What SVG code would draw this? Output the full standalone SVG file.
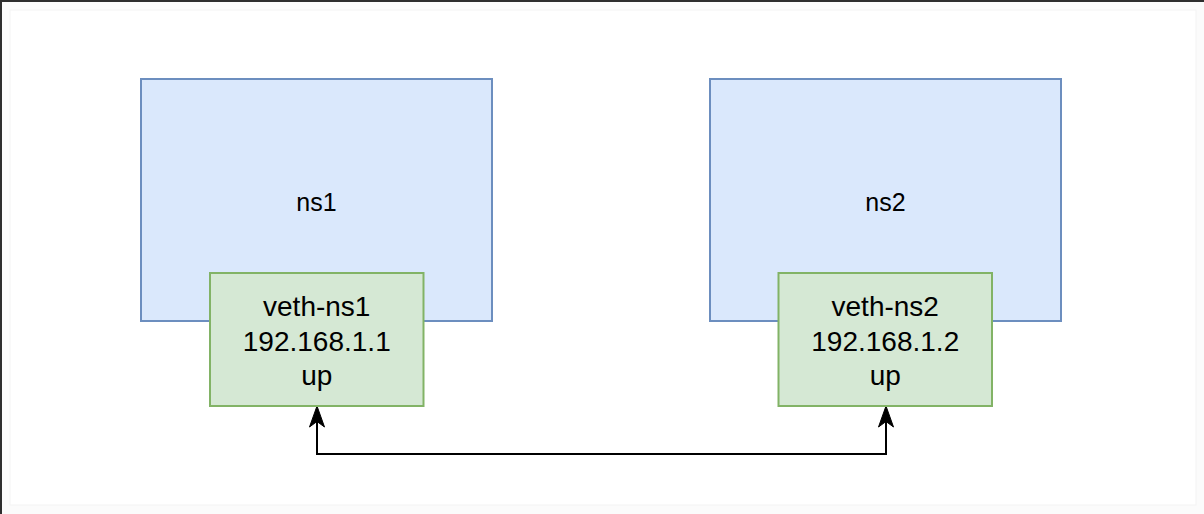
<svg xmlns="http://www.w3.org/2000/svg" width="1204" height="514" viewBox="0 0 1204 514">
<style>
.ns{fill:#dae8fc;stroke:#6c8ebf;stroke-width:2}
.veth{fill:#d5e8d4;stroke:#82b366;stroke-width:2}
.t{font-family:"Liberation Sans",Arial,sans-serif;fill:#000;text-anchor:middle}
.big{font-size:28px}
.lbl{font-size:25px}
.edge{fill:none;stroke:#000;stroke-width:2}
</style>
<defs>
<marker id="arr" markerUnits="userSpaceOnUse" markerWidth="20" markerHeight="20" refX="0" refY="0" viewBox="-10 -10 20 20" orient="auto-start-reverse">
<path d="M0,0 L-20,-7.5 L-15,0 L-20,7.5 Z" fill="#000" stroke="#000" stroke-width="1" transform="translate(1,0)"/>
</marker>
</defs>
<rect x="0" y="0" width="1204" height="514" fill="#fbfbfb"/>
<rect x="0" y="0" width="1204" height="2" fill="#2e2e2e"/>
<rect x="0" y="0" width="2" height="514" fill="#2e2e2e"/>
<rect x="10" y="10" width="1186" height="495" fill="#ffffff" stroke="#f3f3f3" stroke-width="1"/>
<g id="connectors">
<path class="edge" d="M317,420 L317,454 L886,454 L886,420"/>
<path d="M317,406 L309.5,427 L317,421.5 L324.5,427 Z" fill="#000" stroke="#000" stroke-width="1"/>
<path d="M886,406 L878.5,427 L886,421.5 L893.5,427 Z" fill="#000" stroke="#000" stroke-width="1"/>
</g>
<g id="ns1">
<rect class="ns" x="141" y="79" width="351" height="242"/>
<text class="t lbl" x="316.5" y="211">ns1</text>
</g>
<g id="ns2">
<rect class="ns" x="710" y="79" width="351" height="242"/>
<text class="t lbl" x="885.5" y="211">ns2</text>
</g>
<g id="veth-ns1">
<rect class="veth" x="210" y="273" width="213.5" height="133"/>
<text class="t big" x="316.75" y="316">veth-ns1</text>
<text class="t big" x="316.75" y="350.5">192.168.1.1</text>
<text class="t big" x="316.75" y="384.5">up</text>
</g>
<g id="veth-ns2">
<rect class="veth" x="778.5" y="273" width="213.5" height="133"/>
<text class="t big" x="885.25" y="316">veth-ns2</text>
<text class="t big" x="885.25" y="350.5">192.168.1.2</text>
<text class="t big" x="885.25" y="384.5">up</text>
</g>
</svg>
